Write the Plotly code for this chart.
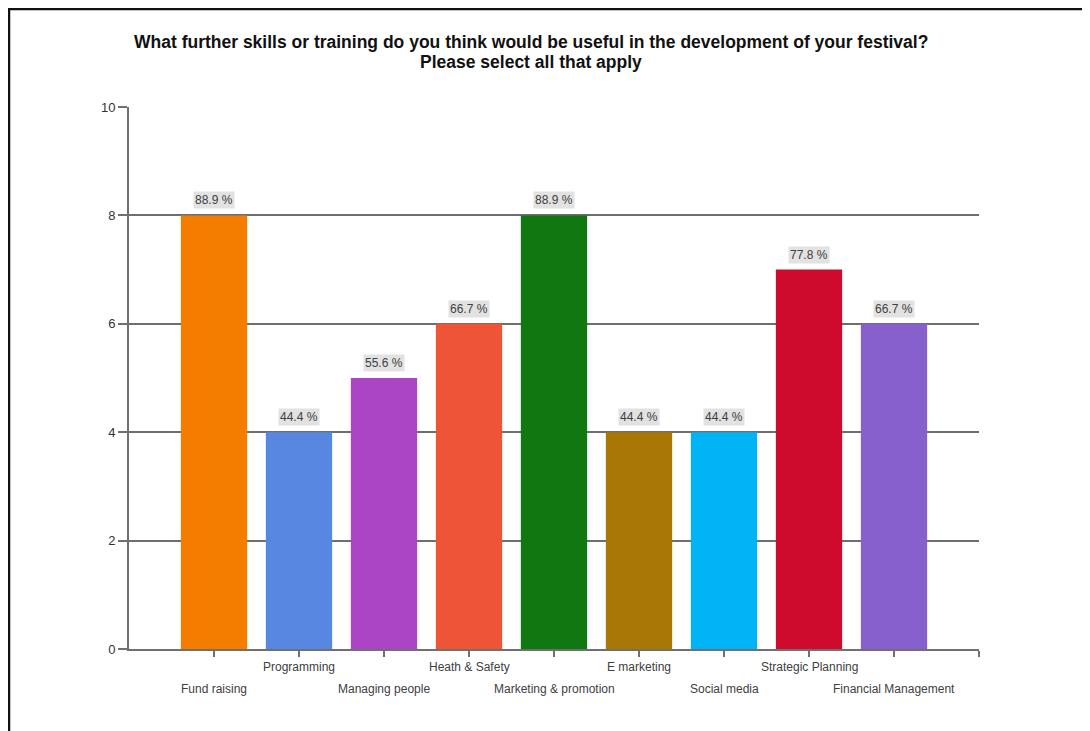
import plotly.graph_objects as go

categories = ["Fund raising", "Programming", "Managing people", "Heath & Safety",
              "Marketing & promotion", "E marketing", "Social media",
              "Strategic Planning", "Financial Management"]
counts = [8, 4, 5, 6, 8, 4, 4, 7, 6]
percents = [88.9, 44.4, 55.6, 66.7, 88.9, 44.4, 44.4, 77.8, 66.7]
bar_colors = ["#F47D00", "#5787E0", "#AB45C6", "#EE5436", "#117711",
              "#A97706", "#00B4F5", "#CE0A2D", "#8760CE"]
title_lines = ["What further skills or training do you think would be useful in the development of your festival?",
               "Please select all that apply"]

# page body has an 8px margin, so the figure starts at (8, 8) on screen
OFF = 8
W, H = 1090 - OFF, 731 - OFF
ML, MR, MT, MB = 129 - OFF, 111, 107 - OFF, 82
PW, PH = W - ML - MR, H - MT - MB

def px_x(px):  # screen px -> paper
    return (px - OFF - ML) / PW

def px_y(py):
    return (H + OFF - MB - py) / PH

idx = list(range(len(categories)))

fig = go.Figure(go.Bar(
    x=idx, y=counts, width=0.78,
    marker=dict(color=bar_colors, line=dict(width=0)),
    hoverinfo="skip",
))

annotations = []
for i, (c, p) in enumerate(zip(counts, percents)):
    annotations.append(dict(
        x=i, y=c, xref="x", yref="y", text=f"{p} %", showarrow=False,
        yanchor="bottom", yshift=6,
        font=dict(family="Liberation Sans, Arial", size=12, color="#404040"),
        bgcolor="#e2e2e2", borderpad=1,
    ))
for i, name in enumerate(categories):
    annotations.append(dict(
        x=i, y=0, xref="x", yref="paper", text=name, showarrow=False,
        yanchor="middle", yshift=-18 if i % 2 == 1 else -40,
        font=dict(family="Liberation Sans, Arial", size=12, color="#404040"),
    ))
for line, py in zip(title_lines, [42, 62]):
    annotations.append(dict(
        x=px_x(531), y=px_y(py), xref="paper", yref="paper", text=f"<b>{line}</b>",
        showarrow=False, xanchor="center", yanchor="middle",
        font=dict(family="Liberation Sans, Arial", size=17.5, color="#111111"),
    ))

shapes = [
    dict(type="line", xref="paper", yref="paper", x0=px_x(8), x1=px_x(1095),
         y0=px_y(9), y1=px_y(9), line=dict(color="#111111", width=2.5)),
    dict(type="line", xref="paper", yref="paper", x0=px_x(9), x1=px_x(9),
         y0=px_y(8), y1=px_y(736), line=dict(color="#111111", width=2.5)),
]

fig.update_layout(
    width=W, height=H,
    margin=dict(l=ML, r=MR, t=MT, b=MB, pad=0),
    paper_bgcolor="white", plot_bgcolor="white",
    showlegend=False,
    annotations=annotations,
    shapes=shapes,
    xaxis=dict(
        range=[-1, len(categories)], tickvals=idx + [len(categories)],
        showticklabels=False, ticks="outside", ticklen=6, tickcolor="#707070",
        tickwidth=2, showgrid=False, showline=True, linecolor="#707070",
        linewidth=2, zeroline=False, fixedrange=True,
    ),
    yaxis=dict(
        range=[0, 10], tickvals=[0, 2, 4, 6, 8, 10],
        ticks="outside", ticklen=9, tickcolor="#707070", tickwidth=1.5,
        showgrid=True, gridcolor="#6e6e6e", gridwidth=1.6,
        showline=True, linecolor="#707070", linewidth=2, zeroline=False,
        tickfont=dict(family="Liberation Sans, Arial", size=13, color="#333333"),
        fixedrange=True,
    ),
)

fig.write_html("out.html")
